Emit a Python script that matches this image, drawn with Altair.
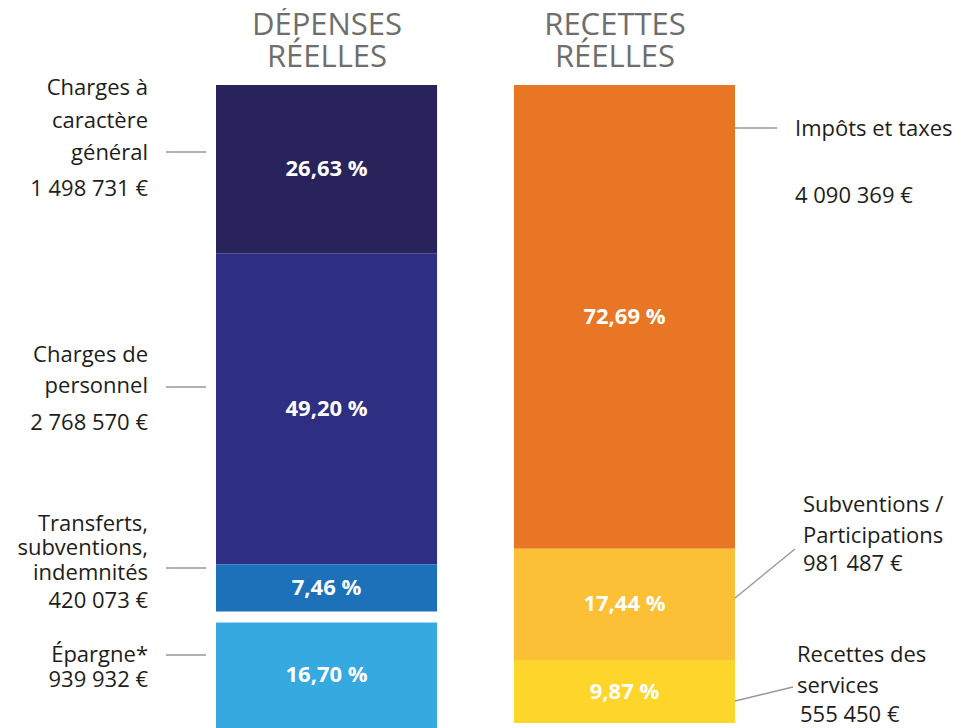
import altair as alt
import pandas as pd

# ---------------- data ----------------
sides = ["Dépenses", "Recettes"]
titles = [["DÉPENSES", "RÉELLES"], ["RECETTES", "RÉELLES"]]

dep_names = ["Charges à\ncaractère\ngénéral", "Charges de\npersonnel",
             "Transferts,\nsubventions,\nindemnités", "Épargne*"]
dep_pcts = [26.63, 49.20, 7.46, 16.70]
dep_amounts = ["1 498 731 €", "2 768 570 €", "420 073 €", "939 932 €"]

rec_names = ["Impôts et taxes", "Subventions /\nParticipations", "Recettes des\nservices"]
rec_pcts = [72.69, 17.44, 9.87]
rec_amounts = ["4 090 369 €", "981 487 €", "555 450 €"]

# ---------------- style ----------------
DEP_COLORS = ["#29235c", "#2e2e82", "#1d71b8", "#36a9e1"]
REC_COLORS = ["#e97624", "#fbc036", "#fed52b"]
GAP = 1.74  # visual gap before "Épargne" (bar units)
TITLE_COLOR = "#6e6e6e"
TEXT_COLOR = "#1d1d1b"
LEADER = "#9e9494"
FONT = "Open Sans"
OFF = 8  # page margin


def fmt(v):
    return f"{v:.2f}".replace(".", ",") + " %"


def seg_table(side, names, pcts, colors, gap_last=0.0):
    rows, start = [], 0.0
    for i, (n, p, c) in enumerate(zip(names, pcts, colors)):
        if i == len(names) - 1:
            start += gap_last
        rows.append(dict(side=side, name=n.replace("\n", " "), pct=p, start=start,
                         end=start + p, mid=start + p / 2, label=fmt(p), color=c))
        start += p
    return pd.DataFrame(rows)


dep_df = seg_table(sides[0], dep_names, dep_pcts, DEP_COLORS, GAP)
rec_df = seg_table(sides[1], rec_names, rec_pcts, REC_COLORS)

x_scale = alt.Scale(domain=sides, range=[208, 727], paddingInner=0.258, paddingOuter=0)


def bar_layers(df, y_range):
    ys = alt.Scale(domain=[0, float(df.end.max())], range=y_range, nice=False, zero=False)
    bars = alt.Chart(df).mark_bar().encode(
        x=alt.X("side:N", scale=x_scale, axis=None),
        y=alt.Y("start:Q", scale=ys, axis=None),
        y2="end:Q",
        color=alt.Color("color:N", scale=None, legend=None),
        tooltip=["name:N", "label:N"],
    )
    txt = alt.Chart(df).mark_text(font=FONT, fontSize=22, fontWeight="bold", color="white",
                                  baseline="middle").encode(
        x=alt.X("side:N", scale=x_scale, axis=None),
        y=alt.Y("mid:Q", scale=ys, axis=None),
        text="label:N",
    )
    return [bars, txt]


def text_layer(s, x, y, align, size=22, color=TEXT_COLOR, weight=400):
    return alt.Chart(pd.DataFrame({"t": [s]})).mark_text(
        font=FONT, fontSize=size, fontWeight=weight, color=color, align=align,
        baseline="alphabetic",
    ).encode(x=alt.value(x - OFF), y=alt.value(y - OFF), text="t:N")


def rule_layer(x1, y1, x2, y2):
    return alt.Chart(pd.DataFrame({"a": [0]})).mark_rule(color=LEADER, strokeWidth=1.3).encode(
        x=alt.value(x1 - OFF), y=alt.value(y1 - OFF), x2=alt.value(x2 - OFF), y2=alt.value(y2 - OFF))


layers = []
layers += bar_layers(dep_df, [85 - OFF, 728 - OFF])
layers += bar_layers(rec_df, [85 - OFF, 723 - OFF])

# titles (layout, screen coords)
title_cx = [327, 615]
title_base = [35, 67]
for cx, lines in zip(title_cx, titles):
    for ln, b in zip(lines, title_base):
        layers.append(text_layer(ln, cx, b, "center", size=31, color=TITLE_COLOR, weight=400))

# left labels
dep_baselines = [[95, 128, 160, 196], [362, 393, 430], [531, 555, 580, 608], [662, 687]]
dep_leader_y = [152, 387, 568, 655]
for name, amt, bl, ly in zip(dep_names, dep_amounts, dep_baselines, dep_leader_y):
    lines = name.split("\n") + [amt]
    for ln, b in zip(lines, bl):
        layers.append(text_layer(ln, 148, b, "right"))
    layers.append(rule_layer(166, ly, 206, ly))

# right labels
rec_baselines = [[136, 203], [512, 543, 571], [662, 693, 722]]
rec_x = [[795, 795], [803, 803, 803], [797, 797, 800]]
rec_leaders = [(735, 128, 777, 128), (735, 598, 795, 549), (735, 701, 793, 687)]
for name, amt, bl, xs, ld in zip(rec_names, rec_amounts, rec_baselines, rec_x, rec_leaders):
    lines = name.split("\n") + [amt]
    for ln, b, x in zip(lines, bl, xs):
        layers.append(text_layer(ln, x, b, "left"))
    layers.append(rule_layer(*ld))

chart = alt.layer(*layers).resolve_scale(y="independent").properties(
    width=948, height=720, autosize=alt.AutoSizeParams(type="none"), padding=0,
    background="white",
).configure_view(stroke=None)

chart.save("out.html", embed_options={"renderer": "svg", "actions": False})
